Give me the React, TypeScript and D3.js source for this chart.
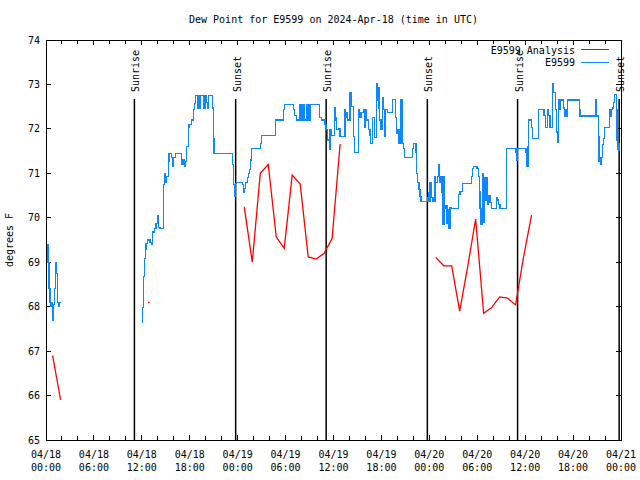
import React from "react";
import * as d3 from "d3";

const TITLE = "Dew Point for E9599 on 2024-Apr-18 (time in UTC)";
const Y_LABEL = "degrees F";
const START_MS = Date.UTC(2024, 3, 18);
const SPAN_HOURS = 72;
const yTickValues = [65, 66, 67, 68, 69, 70, 71, 72, 73, 74];
const legendLabels = ["E9599 Analysis", "E9599"];
const seriesColors = ["#ff0000", "#0f87ff"];

const sunriseHours = [11.07, 35.08, 59.05];
const sunsetHours = [23.75, 47.75, 71.77];

// hourly analysis (hours since 04/18 00:00 UTC)
const analysisHours = [
  0.83, 1.83, 12.83, 24.83, 25.83, 26.83, 27.83, 28.83, 29.83, 30.83, 31.83, 32.83, 33.83, 34.83, 35.83, 36.83,
  48.8, 49.8, 50.8, 51.8, 52.8, 53.8, 54.8, 55.8, 56.8, 57.8, 58.8, 59.8, 60.8,
];
const analysisValues = [
  66.9, 65.9, 68.1, 70.24, 69.0, 71.0, 71.2, 69.57, 69.31, 70.96, 70.76, 69.12, 69.07, 69.2, 69.54, 71.66,
  69.11, 68.92, 68.92, 67.9, 68.9, 69.97, 67.85, 67.98, 68.22, 68.19, 68.04, 69.12, 70.06,
];

// station observations [hours, value], value held until next entry
const stationObs: [number, number][] = [
  [0.0, 69.4], [0.25, 69.0], [0.38, 68.4], [0.5, 68.1], [0.62, 68.0], [0.75, 68.1], [0.85, 67.7],
  [0.95, 68.05], [1.08, 68.4], [1.2, 69.0], [1.3, 68.75], [1.42, 68.1], [1.55, 68.0], [1.7, 68.1], [1.88, 68.1],
  [12.06, 67.65], [12.12, 67.99], [12.18, 68.67], [12.31, 69.09], [12.43, 69.28], [12.52, 69.43], [12.68, 69.5],
  [13.02, 69.45], [13.24, 69.39], [13.36, 69.68], [13.56, 69.75], [13.77, 69.88], [13.94, 70.05], [14.06, 69.79],
  [14.27, 69.75], [14.69, 70.11], [14.75, 70.74], [14.81, 71.0], [14.99, 70.8], [15.11, 70.92], [15.31, 71.26],
  [15.4, 71.44], [15.74, 71.35], [15.87, 71.15], [16.0, 71.35], [16.2, 71.44], [16.99, 71.2], [17.15, 71.3],
  [17.32, 71.15], [17.49, 71.26], [17.62, 71.6], [17.82, 72.04], [17.91, 72.09], [18.24, 72.2], [18.44, 72.36],
  [18.5, 72.43], [18.57, 72.58], [18.75, 72.76], [18.95, 72.45], [19.05, 72.76], [19.2, 72.45], [19.35, 72.76],
  [19.75, 72.45], [19.9, 72.76], [20.05, 72.6], [20.2, 72.45], [20.32, 72.76], [20.87, 72.47], [20.95, 71.79],
  [21.04, 71.44], [23.38, 71.19], [23.45, 70.74], [23.58, 70.47], [23.7, 70.78], [23.88, 70.8], [24.63, 70.74],
  [24.75, 70.56], [24.9, 70.65], [25.0, 70.8], [25.27, 70.9], [25.39, 71.0], [25.5, 71.08], [25.6, 71.3],
  [25.7, 71.4], [25.76, 71.55], [26.85, 71.68], [27.0, 71.86], [28.74, 72.2], [29.71, 72.43], [29.84, 72.54],
  [30.95, 72.43], [31.1, 72.3], [31.4, 72.2], [31.8, 72.54], [32.05, 72.2], [32.2, 72.54], [32.35, 72.2],
  [32.64, 72.54], [32.75, 72.2], [32.85, 72.54], [32.97, 72.2], [33.06, 72.54], [34.22, 72.25], [34.52, 72.2],
  [34.94, 72.09], [35.15, 71.98], [35.28, 71.75], [35.47, 71.53], [35.56, 71.98], [35.75, 71.86], [36.1, 72.47],
  [36.2, 72.2], [36.31, 72.25], [36.4, 71.98], [36.6, 72.0], [36.81, 71.82], [37.44, 72.43], [37.55, 72.25],
  [37.65, 72.36], [37.8, 72.2], [38.07, 72.81], [38.2, 72.5], [38.48, 71.82], [38.6, 71.46], [39.1, 72.43],
  [39.3, 72.25], [39.45, 72.36], [39.73, 72.43], [39.9, 72.04], [40.05, 72.43], [40.16, 72.2], [40.35, 71.98],
  [40.57, 71.86], [40.68, 71.68], [40.9, 72.25], [41.1, 71.8], [41.4, 73.03], [41.5, 72.65], [41.6, 72.92],
  [41.7, 72.47], [41.8, 72.2], [41.95, 71.98], [42.1, 72.7], [42.2, 72.43], [42.4, 71.82], [42.5, 72.43],
  [42.8, 72.36], [43.4, 72.67], [43.79, 72.25], [43.85, 71.9], [44.04, 71.98], [44.2, 71.68], [44.45, 72.67],
  [44.6, 71.68], [44.74, 71.55], [44.85, 71.35], [45.92, 71.55], [46.05, 71.68], [46.33, 71.46], [46.38, 71.0],
  [46.55, 70.8], [46.7, 70.63], [46.83, 70.47], [46.95, 70.36], [47.75, 70.45], [47.85, 70.56], [47.96, 70.36],
  [48.08, 70.8], [48.2, 70.56], [48.3, 70.45], [48.45, 70.36], [48.71, 70.92], [48.8, 70.8], [49.0, 70.92],
  [49.2, 71.19], [49.28, 70.8], [49.34, 70.92], [49.59, 70.56], [49.68, 69.84], [49.84, 70.92], [49.9, 70.2],
  [50.09, 70.27], [50.2, 69.88], [50.38, 70.18], [50.45, 69.75], [50.59, 70.24], [50.8, 70.2], [51.63, 70.52],
  [51.84, 70.6], [52.18, 70.78], [53.3, 70.92], [53.4, 71.1], [53.5, 71.15], [53.98, 71.1], [54.15, 70.92],
  [54.26, 70.58], [54.35, 70.2], [54.47, 69.84], [54.7, 71.0], [54.8, 69.9], [54.9, 70.9], [55.0, 70.4],
  [55.18, 70.9], [55.3, 70.3], [55.4, 70.5], [55.6, 70.35], [55.8, 70.2], [56.43, 70.45], [56.55, 70.4],
  [56.64, 70.3], [56.85, 70.2], [57.69, 71.55], [58.85, 71.46], [58.95, 71.3], [59.07, 71.55], [60.1, 71.46],
  [60.2, 71.15], [60.35, 71.6], [60.42, 72.2], [60.82, 72.04], [60.92, 71.79], [61.65, 72.43], [62.36, 72.3],
  [62.5, 72.04], [62.77, 72.43], [62.9, 72.3], [63.11, 72.04], [63.45, 73.03], [63.55, 72.81], [63.75, 72.43],
  [63.95, 71.93], [64.05, 71.7], [64.15, 72.65], [64.25, 72.43], [64.36, 72.65], [64.78, 72.47], [64.9, 72.29],
  [65.0, 72.43], [65.15, 72.29], [65.33, 72.65], [66.78, 72.43], [66.87, 72.29], [68.87, 72.67], [68.95, 72.29],
  [69.16, 71.82], [69.25, 71.26], [69.4, 71.19], [69.5, 71.35], [69.65, 71.64], [69.79, 71.79], [69.9, 72.04],
  [70.54, 72.43], [70.7, 72.29], [70.84, 72.43], [70.95, 72.47], [71.04, 72.6], [71.15, 72.78], [71.46, 72.43],
  [71.5, 71.75], [71.6, 71.53], [71.71, 71.66], [71.85, 71.5],
];

const FONT = "'DejaVu Sans Mono', monospace";

function splitByGap(pts: [number, number][], gap: number): [number, number][][] {
  const segs: [number, number][][] = [];
  let cur: [number, number][] = [];
  pts.forEach((p, i) => {
    if (i > 0 && p[0] - pts[i - 1][0] > gap) {
      segs.push(cur);
      cur = [];
    }
    cur.push(p);
  });
  if (cur.length) segs.push(cur);
  return segs;
}

export default function App() {
  const W = 640, H = 480;
  const L = 46, R = 621, T = 40, B = 440;
  const toDate = (h: number) => new Date(START_MS + h * 3600e3);
  const x = d3.scaleUtc().domain([toDate(0), toDate(SPAN_HOURS)]).range([L, R]);
  const y = d3.scaleLinear().domain([65, 74]).range([B, T]);

  const minorTicks = x.ticks(d3.utcHour.every(2) as any);
  const majorTicks = minorTicks.filter((d) => d.getUTCHours() % 6 === 0);
  const fmtDate = d3.utcFormat("%m/%d");
  const fmtTime = d3.utcFormat("%H:%M");

  const stepLine = d3
    .line<[number, number]>()
    .x((d) => x(toDate(d[0])))
    .y((d) => y(d[1]))
    .curve(d3.curveStepAfter);
  const linLine = d3
    .line<[number, number]>()
    .x((d) => x(toDate(d[0])))
    .y((d) => y(d[1]));

  const stationSegs = splitByGap(stationObs, 6);
  const analysisPts: [number, number][] = analysisHours.map((h, i) => [h, analysisValues[i]]);
  const analysisSegs = splitByGap(analysisPts, 1.5);

  const sunEvents = [
    ...sunriseHours.map((h) => ({ h, label: "Sunrise" })),
    ...sunsetHours.map((h) => ({ h, label: "Sunset" })),
  ];

  return (
    <svg
      width={W}
      height={H}
      style={{ position: "absolute", left: 0, top: 0, background: "#fff" }}
      fontFamily={FONT}
      fontSize={10}
    >
      <rect x={0} y={0} width={W} height={H} fill="#fff" />
      <text x={(L + R) / 2} y={23} textAnchor="middle" fill="#000">
        {TITLE}
      </text>
      <text transform={`translate(13,${(T + B) / 2}) rotate(-90)`} textAnchor="middle" fill="#000">
        {Y_LABEL}
      </text>

      {/* y ticks */}
      {yTickValues.map((v) => (
        <g key={"y" + v} shapeRendering="crispEdges">
          <line x1={L} x2={L + 5} y1={y(v)} y2={y(v)} stroke="#000" />
          <line x1={R - 5} x2={R} y1={y(v)} y2={y(v)} stroke="#000" />
          <text x={L - 6} y={y(v) + 3.5} textAnchor="end" fill="#000">
            {v}
          </text>
        </g>
      ))}

      {/* x ticks */}
      {minorTicks.map((d, i) => {
        const len = d.getUTCHours() % 6 === 0 ? 5 : 4;
        return (
          <g key={"x" + i} shapeRendering="crispEdges">
            <line x1={x(d)} x2={x(d)} y1={B} y2={B - len} stroke="#000" />
            <line x1={x(d)} x2={x(d)} y1={T} y2={T + len} stroke="#000" />
          </g>
        );
      })}
      {majorTicks.map((d, i) => (
        <g key={"xl" + i}>
          <text x={x(d)} y={458} textAnchor="middle" fill="#000">
            {fmtDate(d)}
          </text>
          <text x={x(d)} y={471} textAnchor="middle" fill="#000">
            {fmtTime(d)}
          </text>
        </g>
      ))}

      {/* sunrise / sunset */}
      {sunEvents.map((e, i) => (
        <g key={"s" + i}>
          <line
            x1={x(toDate(e.h))}
            x2={x(toDate(e.h))}
            y1={99}
            y2={B}
            stroke="#000"
            strokeWidth={1.5}
          />
          <text
            transform={`translate(${x(toDate(e.h)) + 5},92) rotate(-90)`}
            textAnchor="start"
            fill="#000"
          >
            {e.label}
          </text>
        </g>
      ))}

      {/* series */}
      {analysisSegs.map((seg, i) =>
        seg.length > 1 ? (
          <path
            key={"a" + i}
            d={linLine(seg) || ""}
            fill="none"
            stroke={seriesColors[0]}
            strokeWidth={1.3}
          />
        ) : (
          <rect
            key={"a" + i}
            x={x(toDate(seg[0][0])) - 0.5}
            y={y(seg[0][1]) - 0.5}
            width={1.5}
            height={1.5}
            fill={seriesColors[0]}
          />
        )
      )}
      {stationSegs.map((seg, i) => (
        <path
          key={"b" + i}
          d={stepLine(seg) || ""}
          fill="none"
          stroke={seriesColors[1]}
          strokeWidth={1.2}
          shapeRendering="crispEdges"
        />
      ))}

      {/* border */}
      <rect x={L} y={T} width={R - L} height={B - T} fill="none" stroke="#000" shapeRendering="crispEdges" />

      {/* legend */}
      {legendLabels.map((lab, i) => (
        <g key={"lg" + i}>
          <text x={575} y={53.5 + i * 12.5} textAnchor="end" fill="#000">
            {lab}
          </text>
          <line
            x1={581}
            x2={609}
            y1={49.5 + i * 12.5}
            y2={49.5 + i * 12.5}
            stroke={seriesColors[i]}
            strokeWidth={1}
            shapeRendering="crispEdges"
          />
        </g>
      ))}
    </svg>
  );
}
